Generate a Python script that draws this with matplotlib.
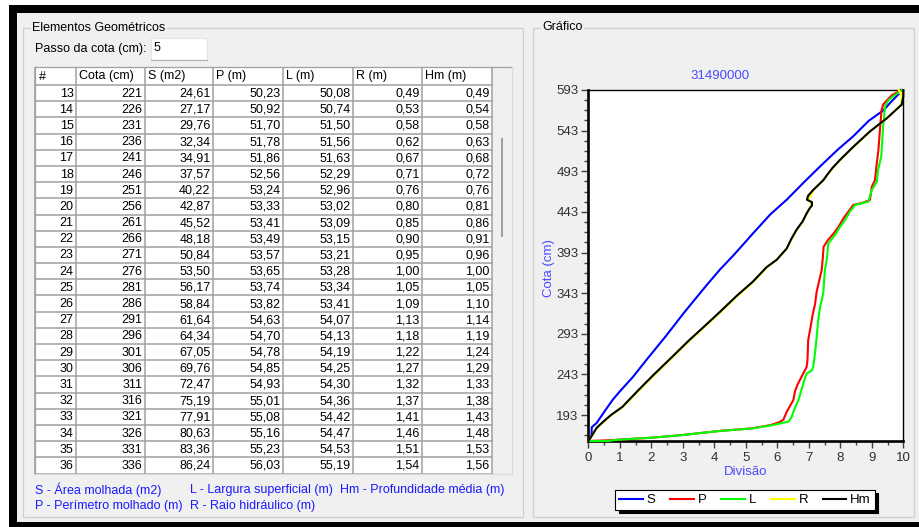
import matplotlib
matplotlib.use('Agg')
import matplotlib.pyplot as plt
import numpy as np
from matplotlib.patches import Rectangle
from matplotlib.ticker import FixedLocator, MultipleLocator

plt.rcParams['font.family'] = ['Liberation Sans', 'DejaVu Sans']

# ---------------- table data ----------------
row_ids = [13, 14, 15, 16, 17, 18, 19, 20, 21, 22, 23, 24, 25, 26, 27, 28, 29, 30, 31, 32, 33, 34, 35, 36]
cota_cm = [221, 226, 231, 236, 241, 246, 251, 256, 261, 266, 271, 276, 281, 286, 291, 296, 301, 306, 311, 316, 321, 326, 331, 336]
S_m2 = [24.61, 27.17, 29.76, 32.34, 34.91, 37.57, 40.22, 42.87, 45.52, 48.18, 50.84, 53.50,
        56.17, 58.84, 61.64, 64.34, 67.05, 69.76, 72.47, 75.19, 77.91, 80.63, 83.36, 86.24]
P_m = [50.23, 50.92, 51.70, 51.78, 51.86, 52.56, 53.24, 53.33, 53.41, 53.49, 53.57, 53.65,
       53.74, 53.82, 54.63, 54.70, 54.78, 54.85, 54.93, 55.01, 55.08, 55.16, 55.23, 56.03]
L_m = [50.08, 50.74, 51.50, 51.56, 51.63, 52.29, 52.96, 53.02, 53.09, 53.15, 53.21, 53.28,
       53.34, 53.41, 54.07, 54.13, 54.19, 54.25, 54.30, 54.36, 54.42, 54.47, 54.53, 55.19]
R_m = [0.49, 0.53, 0.58, 0.62, 0.67, 0.71, 0.76, 0.80, 0.85, 0.90, 0.95, 1.00,
       1.05, 1.09, 1.13, 1.18, 1.22, 1.27, 1.32, 1.37, 1.41, 1.46, 1.51, 1.54]
Hm_m = [0.49, 0.54, 0.58, 0.63, 0.68, 0.72, 0.76, 0.81, 0.86, 0.91, 0.96, 1.00,
        1.05, 1.10, 1.14, 1.19, 1.24, 1.29, 1.33, 1.38, 1.43, 1.48, 1.53, 1.56]
headers = ['#', 'Cota (cm)', 'S (m2)', 'P (m)', 'L (m)', 'R (m)', 'Hm (m)']
passo = '5'

# ---------------- chart data ----------------
chart_title = '31490000'
cota_S = [161, 164, 167, 178, 183, 192, 201, 212, 222, 240, 261, 290, 318, 336, 353, 372, 390, 417,
          440, 458, 480, 499, 520, 536, 555, 568, 580, 589, 593]
div_S = [0.0, 0.05, 0.10, 0.11, 0.26, 0.42, 0.58, 0.78, 1.0, 1.42, 1.85, 2.46, 3.02, 3.40, 3.76, 4.18,
         4.62, 5.24, 5.78, 6.3, 6.86, 7.36, 7.93, 8.41, 8.9, 9.37, 9.65, 9.88, 9.92]

cota_P = [161, 162, 163.5, 165, 168.4, 171, 173.3, 176.6, 180.7, 184, 187, 197, 211.5, 222, 231, 240,
          252, 262, 285, 300, 316, 330, 345, 371.5, 384, 400, 408, 416, 425, 435, 443, 451.5, 454,
          457.6, 465, 474, 482, 500, 519, 545, 568.4, 575, 580, 587, 592, 593]
div_P = [0.0, 0.7, 1.3, 2.0, 3.0, 3.6, 4.15, 5.2, 5.8, 6.05, 6.19, 6.3, 6.51, 6.56, 6.65, 6.77,
         6.93, 6.96, 6.98, 7.05, 7.12, 7.2, 7.25, 7.41, 7.44, 7.47, 7.6, 7.78, 7.95, 8.1, 8.25, 8.41, 8.7,
         8.94, 8.97, 9.0, 9.1, 9.15, 9.21, 9.26, 9.31, 9.36, 9.47, 9.65, 9.9, 9.95]

cota_L = [161, 161, 162, 163.5, 165, 168.4, 171, 173.3, 176.6, 180.7, 184.8, 190, 197, 211.5, 224, 235,
          244, 248, 252, 270, 289, 310, 326, 343, 371.5, 384, 404, 414.5, 425, 433, 443, 451.5, 455.5,
          470, 480, 495, 511, 530, 548, 572.5, 580, 586, 591, 593]
div_L = [0.0, 0.63, 0.8, 1.32, 2.0, 3.02, 3.6, 4.18, 5.24, 5.87, 6.35, 6.45, 6.51, 6.67, 6.77, 6.85,
         6.93, 7.1, 7.14, 7.2, 7.25, 7.3, 7.36, 7.46, 7.51, 7.57, 7.62, 7.83, 8.0, 8.15, 8.3, 8.47, 8.89,
         9.0, 9.16, 9.2, 9.3, 9.33, 9.36, 9.42, 9.52, 9.7, 9.9, 9.95]

cota_R = [161, 168, 177, 185, 193, 203, 224, 242, 263, 285, 302, 320, 340, 357, 375, 384, 398, 410,
          421, 431, 441, 451, 458, 470, 482, 497, 507, 523, 542, 558, 575, 583, 590, 593]
div_R = [0.0, 0.13, 0.28, 0.50, 0.74, 1.10, 1.63, 2.09, 2.65, 3.23, 3.71, 4.21, 4.75, 5.25, 5.68, 5.99,
         6.3, 6.46, 6.62, 6.81, 6.94, 7.09, 6.99, 7.15, 7.47, 7.76, 8.0, 8.42, 8.95, 9.48, 9.92, 9.96, 9.9, 9.85]

cota_Hm = [161, 168, 177, 185, 193, 203, 224, 242, 263, 285, 302, 320, 340, 357, 375, 384, 398, 410,
           421, 431, 441, 447, 451, 455, 458, 463, 470, 482, 488, 497, 507, 523, 542, 558, 575, 585, 593]
div_Hm = [0.0, 0.12, 0.26, 0.48, 0.72, 1.08, 1.6, 2.06, 2.62, 3.2, 3.68, 4.18, 4.72, 5.22, 5.66, 5.98,
          6.3, 6.45, 6.61, 6.8, 6.93, 7.02, 7.1, 7.1, 6.94, 6.98, 7.14, 7.46, 7.57, 7.75, 7.99, 8.41, 8.94,
          9.47, 9.95, 10.0, 10.0]

y_major = [193, 243, 293, 343, 393, 443, 493, 543, 593]
x_major = [0, 1, 2, 3, 4, 5, 6, 7, 8, 9, 10]

series = [('S', cota_S, div_S, '#0000ff'),
          ('P', cota_P, div_P, '#ff0000'),
          ('L', cota_L, div_L, '#00ff00'),
          ('R', cota_R, div_R, '#ffff00'),
          ('Hm', cota_Hm, div_Hm, '#000000')]

# ---------------- figure / window chrome ----------------
W, H = 920, 527
fig = plt.figure(figsize=(W / 100, H / 100), dpi=100)
bg = fig.add_axes([0, 0, 1, 1])
bg.set_xlim(0, W)
bg.set_ylim(H, 0)
bg.axis('off')

bg.add_patch(Rectangle((0, 0), W, H, fc='white', ec='none', zorder=0))
bg.add_patch(Rectangle((9, 5), W, H, fc='black', ec='none', zorder=0))
bg.add_patch(Rectangle((17, 13), W, 508.5, fc='#f0f0f0', ec='none', zorder=1))

gb_col = '#d0d0d0'
bg.add_patch(Rectangle((23, 28), 500, 489, fill=False, ec=gb_col, lw=0.9, zorder=2))
bg.add_patch(Rectangle((533, 28), 381, 489, fill=False, ec=gb_col, lw=0.9, zorder=2))
fs = 9
bg.text(32, 28, 'Elementos Geométricos', fontsize=fs, va='center', ha='left', color='black', zorder=3,
        bbox=dict(boxstyle='square,pad=0.1', fc='#f0f0f0', ec='none'))
bg.text(542, 27, 'Gráfico', fontsize=fs, va='center', ha='left', color='black', zorder=3,
        bbox=dict(boxstyle='square,pad=0.1', fc='#f0f0f0', ec='none'))

bg.text(35, 49, 'Passo da cota (cm):', fontsize=fs, va='center', ha='left', color='black', zorder=3)
bg.add_patch(Rectangle((151, 38), 56, 22, fc='white', ec='#e3e3e3', lw=0.8, zorder=2))
bg.plot([151, 207], [60, 60], color='#b0b0b0', lw=0.8, zorder=3)
bg.text(154, 48, passo, fontsize=fs, va='center', ha='left', color='black', zorder=3)

# ---------------- table ----------------
col_edges = [35, 76, 145, 213, 283, 353, 422, 492]
t_left, t_top, t_right, t_bottom = 35, 67, 512, 473.5
head_h = 18
row_h = (t_bottom - t_top - head_h) / len(row_ids)
bg.add_patch(Rectangle((t_left, t_top), t_right - t_left, t_bottom - t_top, fc='#f0f0f0', ec='none', zorder=2))
bg.add_patch(Rectangle((t_left, t_top), col_edges[-1] - t_left, t_bottom - t_top, fc='white', ec='none', zorder=2))
grid_c = '#a0a0a0'
for xe in col_edges:
    bg.plot([xe, xe], [t_top, t_bottom], color=grid_c, lw=1.1, zorder=3, solid_capstyle='butt')
yy = t_top + head_h
bg.plot([t_left, col_edges[-1]], [yy, yy], color=grid_c, lw=1.1, zorder=3)
for i in range(len(row_ids)):
    yb = t_top + head_h + (i + 1) * row_h
    bg.plot([t_left, col_edges[-1]], [yb, yb], color=grid_c, lw=1.1, zorder=3)
# frame
bg.plot([t_left, t_right], [t_top, t_top], color='#a0a0a0', lw=0.9, zorder=4)
bg.plot([t_left, t_left], [t_top, t_bottom], color='#a0a0a0', lw=0.9, zorder=4)
bg.plot([t_right, t_right], [t_top, t_bottom], color='#dadada', lw=0.9, zorder=4)
bg.plot([t_left, t_right], [t_bottom + 0.5, t_bottom + 0.5], color='#dadada', lw=0.9, zorder=4)
# scrollbar thumb
bg.add_patch(Rectangle((501, 138), 2.5, 99, fc='#a0a0a0', ec='none', zorder=4))

for j, h in enumerate(headers):
    bg.text(col_edges[j] + 3.5, t_top + head_h / 2 + 0.5, h, fontsize=fs, va='center', ha='left',
            color='black', zorder=5)


def fmt(v):
    return ('%.2f' % v).replace('.', ',')


cols = [[str(v) for v in row_ids], [str(v) for v in cota_cm], [fmt(v) for v in S_m2], [fmt(v) for v in P_m],
        [fmt(v) for v in L_m], [fmt(v) for v in R_m], [fmt(v) for v in Hm_m]]
for i in range(len(row_ids)):
    yc = t_top + head_h + (i + 0.5) * row_h + 0.5
    for j in range(len(cols)):
        bg.text(col_edges[j + 1] - 2.5, yc, cols[j][i], fontsize=fs, va='center', ha='right',
                color='black', zorder=5)

leg_blue = '#1a1aff'
bg.text(35, 489.5, 'S - Área molhada (m2)', fontsize=fs, va='center', ha='left', color=leg_blue, zorder=5)
bg.text(35, 506, 'P - Perímetro molhado (m)', fontsize=fs, va='center', ha='left', color=leg_blue, zorder=5)
bg.text(190.5, 489.5, 'L - Largura superficial (m)', fontsize=fs, va='center', ha='left', color=leg_blue, zorder=5)
bg.text(190.5, 506, 'R - Raio hidráulico (m)', fontsize=fs, va='center', ha='left', color=leg_blue, zorder=5)
bg.text(340, 489.5, 'Hm - Profundidade média (m)', fontsize=fs, va='center', ha='left', color=leg_blue, zorder=5)

# ---------------- chart ----------------
ax_l, ax_r, ax_t, ax_b = 588.3, 903.3, 90, 441
ax = fig.add_axes([ax_l / W, 1 - ax_b / H, (ax_r - ax_l) / W, (ax_b - ax_t) / H])
ax.set_facecolor('white')
handles = []
for name, cy, dx, col in series:
    ln, = ax.plot(dx, cy, color=col, lw=1.5, label=name, clip_on=False, zorder=3)
    handles.append(ln)
ax.set_xlim(0, 10)
ax.set_ylim(161, 593)
ax.yaxis.set_major_locator(FixedLocator(y_major))
ax.yaxis.set_minor_locator(FixedLocator([v for v in np.arange(593, 160, -12.5) if v not in y_major]))
ax.xaxis.set_major_locator(FixedLocator(x_major))
ax.xaxis.set_minor_locator(MultipleLocator(0.5))
ax.tick_params(which='major', direction='out', length=5, width=1.0, color='#404040',
               labelsize=9.5, labelcolor='#303030')
ax.tick_params(which='minor', direction='out', length=3, width=1.0, color='#404040')
ax.tick_params(axis='y', pad=2)
ax.tick_params(axis='x', pad=3)
for s in ['left', 'bottom']:
    ax.spines[s].set_linewidth(1.9)
for s in ['top', 'right']:
    ax.spines[s].set_linewidth(1.0)

fig.text(720 / W, 1 - 76 / H, chart_title, fontsize=9.5, color='#4a4aff', ha='center', va='center')
fig.text(745.8 / W, 1 - 472 / H, 'Divisão', fontsize=9.5, color='#4a4aff', ha='center', va='center')
fig.text(549 / W, 1 - 268 / H, 'Cota (cm)', fontsize=9.5, color='#4a4aff', ha='center', va='center', rotation=90)

leg = fig.legend(handles=handles, labels=[s[0] for s in series], loc='center',
                 bbox_to_anchor=(745 / W, 1 - 500 / H), ncol=5, frameon=True, fancybox=False,
                 edgecolor='black', framealpha=1, fontsize=9.5, handlelength=1.8, handletextpad=0.3,
                 columnspacing=1.1, borderpad=0.3,
                 shadow={'color': 'black', 'alpha': 1, 'ox': 2.5, 'oy': -2})
leg.get_frame().set_linewidth(0.8)

fig.savefig('out.png', dpi=100)
